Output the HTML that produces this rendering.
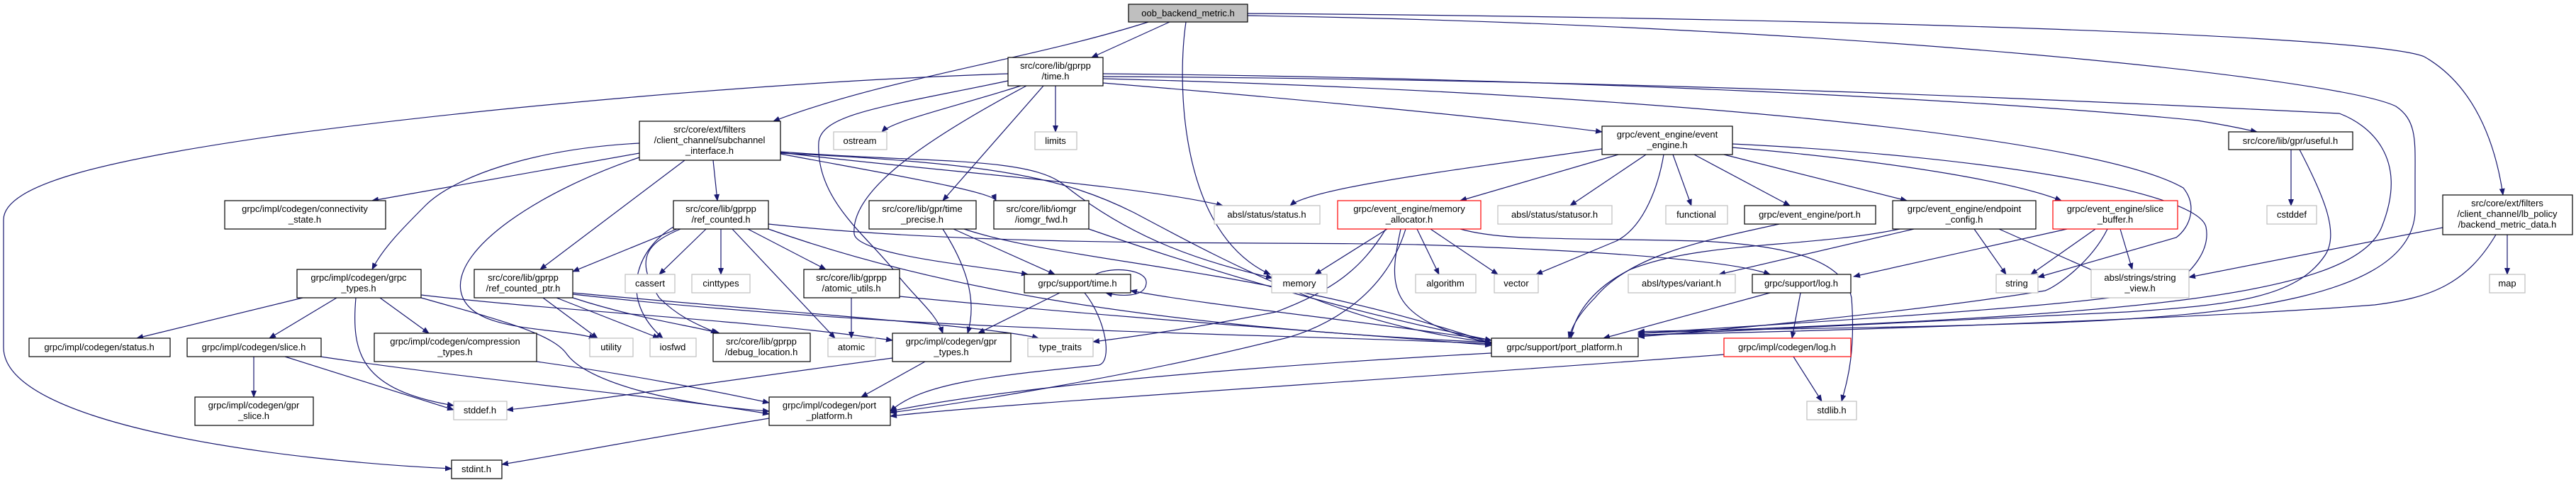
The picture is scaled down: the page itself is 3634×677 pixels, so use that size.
<!DOCTYPE html>
<html><head><meta charset="utf-8"><style>
html,body{margin:0;padding:0;background:#fff;}
svg{display:block;}
text{font-family:"Liberation Sans",sans-serif;font-size:13px;fill:#000;text-anchor:middle;}
.e{fill:none;stroke:#191970;stroke-width:1.2;marker-end:url(#a);}
.n{fill:#fff;stroke:#000;stroke-width:1.2;}
.g{fill:#fff;stroke:#bfbfbf;stroke-width:1.2;}
.r{fill:#fff;stroke:#ff0000;stroke-width:1.2;}
.root{fill:#bfbfbf;stroke:#000;stroke-width:1.2;}
</style></head><body>
<svg width="3634" height="677" viewBox="0 0 3634 677" xmlns="http://www.w3.org/2000/svg">
<defs><marker id="a" markerWidth="10" markerHeight="8" refX="9" refY="4" orient="auto" markerUnits="userSpaceOnUse"><path d="M0,0 L10,4 L0,8 z" fill="#191970"/></marker></defs>
<g>
<!-- oob edges -->
<path class="e" d="M1620,31 C1450,85 1250,110 1091,171"/>
<path class="e" d="M1650,31 L1540,81"/>
<path class="e" d="M1673,31 C1660,120 1665,330 1792,387"/>
<path class="e" d="M1760,19 C2600,25 3350,50 3420,80 C3490,120 3520,200 3531,275"/>
<path class="e" d="M1760,22 C2600,35 3300,110 3380,150 C3410,170 3407,200 3407,250 L3407,300 C3400,420 3150,445 2900,455 C2600,465 2350,465 2311,468"/>
<!-- time edges -->
<path class="e" d="M1422,104 C1100,115 700,150 400,190 C150,225 5,260 5,310 L5,490 C5,600 400,650 637,661"/>
<path class="e" d="M1440,121 C1350,150 1260,170 1244,186"/>
<path class="e" d="M1489,121 L1489,186"/>
<path class="e" d="M1472,121 L1330,283"/>
<path class="e" d="M1448,121 C1300,200 1200,270 1205,330 C1210,360 1380,375 1450,387"/>
<path class="e" d="M1422,114 C1250,150 1160,160 1155,200 C1150,280 1220,330 1260,380 C1290,420 1320,440 1330,470"/>
<path class="e" d="M1556,117 C1800,137 2100,165 2260,186"/>
<path class="e" d="M1556,104 C2200,110 2800,140 3100,170 C3150,178 3170,183 3184,186"/>
<path class="e" d="M1556,108 C2300,112 2900,140 3300,160 C3340,175 3400,220 3360,320 C3320,420 3000,445 2311,470"/>
<path class="e" d="M1556,111 C2300,130 2950,190 3080,265 C3100,290 3090,320 3070,335 L2875,391"/>
<!-- subchannel edges -->
<path class="e" d="M902,216 L525,283"/>
<path class="e" d="M902,202 C750,210 640,250 600,290 C570,320 540,350 525,380"/>
<path class="e" d="M966,226 L762,380"/>
<path class="e" d="M1006,226 L1012,283"/>
<path class="e" d="M902,222 C760,270 640,350 650,410 C660,470 780,460 840,477"/>
<path class="e" d="M1101,217 C1250,245 1400,270 1405,283"/>
<path class="e" d="M1101,215 C1300,240 1600,260 1725,290"/>
<path class="e" d="M1101,214 C1300,230 1450,220 1500,260 C1600,340 1700,370 1795,392"/>
<path class="e" d="M1101,216 C1400,230 1500,250 1600,300 C1750,380 1900,460 2104,483"/>
<!-- ref_counted -->
<path class="e" d="M996,323 L930,387"/>
<path class="e" d="M1017,323 L1017,387"/>
<path class="e" d="M1033,323 L1178,477"/>
<path class="e" d="M1055,323 L1165,380"/>
<path class="e" d="M960,323 C920,340 890,360 930,420 C960,450 990,460 1012,470"/>
<path class="e" d="M955,323 L808,383"/>
<path class="e" d="M1084,316 C1400,350 1800,340 2000,345 C2300,355 2450,370 2497,387"/>
<path class="e" d="M1084,323 C1300,400 1600,460 2104,483"/>
<path class="e" d="M950,320 C900,350 870,420 935,477"/>
<!-- ref_counted_ptr -->
<path class="e" d="M766,420 L843,477"/>
<path class="e" d="M785,420 L930,477"/>
<path class="e" d="M808,420 C900,450 980,460 1015,470"/>
<path class="e" d="M808,413 C1100,440 1400,460 1465,477"/>
<path class="e" d="M808,415 C1300,470 1800,470 2104,485"/>
<!-- grpc_types -->
<path class="e" d="M427,420 L193,477"/>
<path class="e" d="M475,420 L380,477"/>
<path class="e" d="M536,420 L605,470"/>
<path class="e" d="M502,420 C495,500 510,550 640,572"/>
<path class="e" d="M594,416 C800,440 1050,450 1259,480"/>
<path class="e" d="M594,420 C700,450 780,470 800,500 C830,540 950,570 1085,580"/>
<!-- slice -->
<path class="e" d="M358,503 L358,560"/>
<path class="e" d="M402,503 L640,578"/>
<path class="e" d="M452,503 C700,540 950,560 1085,584"/>
<path class="e" d="M757,510 C900,530 1000,550 1085,568"/>
<path class="e" d="M1259,505 C1000,540 800,570 715,578"/>
<path class="e" d="M1305,510 L1215,560"/>
<path class="e" d="M1085,590 C900,620 800,640 708,655"/>
<!-- time_precise / iomgr / atomic_utils / support_time -->
<path class="e" d="M1345,323 L1488,387"/>
<path class="e" d="M1330,323 C1360,370 1380,420 1365,470"/>
<path class="e" d="M1360,323 C1500,370 1800,380 2104,484"/>
<path class="e" d="M1536,323 C1700,380 1900,440 2104,480"/>
<path class="e" d="M1201,420 L1201,477"/>
<path class="e" d="M1269,418 C1600,450 1900,470 2104,487"/>
<path class="e" d="M1545,387 C1570,375 1620,380 1617,400 C1615,420 1580,418 1560,413"/>
<path class="e" d="M1495,413 L1380,470"/>
<path class="e" d="M1530,413 C1560,450 1570,510 1550,515 C1400,530 1300,540 1256,580"/>
<path class="e" d="M2104,480 C1900,450 1700,430 1595,410"/>
<!-- memory allocator -->
<path class="e" d="M1957,323 L1855,387"/>
<path class="e" d="M1999,323 L2030,387"/>
<path class="e" d="M2018,323 L2113,387"/>
<path class="e" d="M2060,323 C2120,340 2200,335 2400,340 C2500,345 2600,360 2612,420 C2618,500 2605,540 2598,566"/>
<path class="e" d="M1976,323 C1960,400 1950,450 2104,484"/>
<path class="e" d="M1983,323 C1950,430 1850,470 1800,480 C1600,530 1350,570 1256,582"/>
<path class="e" d="M1955,323 C1920,380 1880,410 1800,440 C1700,460 1600,475 1542,482"/>
<!-- event engine -->
<path class="e" d="M2260,210 C2050,240 1850,265 1820,290"/>
<path class="e" d="M2283,218 L2060,283"/>
<path class="e" d="M2322,218 L2215,290"/>
<path class="e" d="M2347,218 C2340,260 2320,320 2280,340 L2167,387"/>
<path class="e" d="M2360,218 L2386,290"/>
<path class="e" d="M2390,218 L2525,290"/>
<path class="e" d="M2432,218 L2690,283"/>
<path class="e" d="M2444,208 C2700,230 2850,260 2908,283"/>
<path class="e" d="M2444,203 C2800,220 3100,270 3112,320 C3120,360 3080,390 3070,400 C3050,420 2800,440 2311,470"/>
<path class="e" d="M2510,316 C2400,340 2300,360 2250,420 C2220,450 2215,470 2213,477"/>
<path class="e" d="M2785,323 L2830,387"/>
<path class="e" d="M2820,323 L2965,387"/>
<path class="e" d="M2700,323 L2425,387"/>
<path class="e" d="M2680,323 C2550,350 2400,340 2300,380 C2240,410 2220,450 2216,477"/>
<path class="e" d="M2956,323 L2865,387"/>
<path class="e" d="M2991,323 L3008,380"/>
<path class="e" d="M2916,323 L2615,390"/>
<path class="e" d="M2973,323 C2950,370 2900,405 2885,410 C2700,440 2400,468 2311,475"/>
<path class="e" d="M3232,211 L3232,290"/>
<path class="e" d="M3244,211 C3280,280 3300,330 3280,360 C3240,420 3150,430 3000,440 C2700,455 2400,468 2311,473"/>
<path class="e" d="M3446,321 L3088,391"/>
<path class="e" d="M3537,331 L3537,387"/>
<path class="e" d="M3521,331 C3480,400 3430,420 3350,430 C3100,450 2500,470 2311,472"/>
<path class="e" d="M2540,413 L2528,477"/>
<path class="e" d="M2497,413 L2262,477"/>
<path class="e" d="M2530,503 L2570,566"/>
<path class="e" d="M2432,500 C1900,540 1400,570 1256,587"/>
<path class="e" d="M2104,498 C1700,520 1400,550 1256,580"/>
</g>
<g>
<rect class="root" x="1592" y="6" width="168" height="25"/><text x="1676" y="23">oob_backend_metric.h</text>
<rect class="n" x="1422" y="81" width="134" height="40"/><text x="1489" y="97">src/core/lib/gprpp</text><text x="1489" y="112">/time.h</text>
<rect class="n" x="902" y="171" width="199" height="55"/><text x="1001" y="187">src/core/ext/filters</text><text x="1001" y="202">/client_channel/subchannel</text><text x="1001" y="217">_interface.h</text>
<rect class="g" x="1176" y="186" width="75" height="25"/><text x="1213" y="203">ostream</text>
<rect class="g" x="1460" y="186" width="59" height="25"/><text x="1489" y="203">limits</text>
<rect class="n" x="3144" y="186" width="175" height="25"/><text x="3231" y="203">src/core/lib/gpr/useful.h</text>
<rect class="n" x="2260" y="178" width="184" height="40"/><text x="2352" y="194">grpc/event_engine/event</text><text x="2352" y="209">_engine.h</text>
<rect class="n" x="3446" y="275" width="183" height="56"/><text x="3537" y="291">src/core/ext/filters</text><text x="3537" y="306">/client_channel/lb_policy</text><text x="3537" y="321">/backend_metric_data.h</text>
<rect class="n" x="317" y="283" width="227" height="40"/><text x="430" y="299">grpc/impl/codegen/connectivity</text><text x="430" y="314">_state.h</text>
<rect class="n" x="950" y="283" width="134" height="40"/><text x="1017" y="299">src/core/lib/gprpp</text><text x="1017" y="314">/ref_counted.h</text>
<rect class="n" x="1226" y="283" width="151" height="40"/><text x="1301" y="299">src/core/lib/gpr/time</text><text x="1301" y="314">_precise.h</text>
<rect class="n" x="1402" y="283" width="134" height="40"/><text x="1469" y="299">src/core/lib/iomgr</text><text x="1469" y="314">/iomgr_fwd.h</text>
<rect class="g" x="1713" y="290" width="149" height="26"/><text x="1787" y="307">absl/status/status.h</text>
<rect class="r" x="1887" y="283" width="202" height="40"/><text x="1988" y="299">grpc/event_engine/memory</text><text x="1988" y="314">_allocator.h</text>
<rect class="g" x="2113" y="290" width="161" height="26"/><text x="2193" y="307">absl/status/statusor.h</text>
<rect class="g" x="2350" y="290" width="87" height="26"/><text x="2393" y="307">functional</text>
<rect class="n" x="2461" y="290" width="185" height="26"/><text x="2553" y="307">grpc/event_engine/port.h</text>
<rect class="n" x="2670" y="283" width="202" height="40"/><text x="2771" y="299">grpc/event_engine/endpoint</text><text x="2771" y="314">_config.h</text>
<rect class="r" x="2896" y="283" width="176" height="40"/><text x="2984" y="299">grpc/event_engine/slice</text><text x="2984" y="314">_buffer.h</text>
<rect class="g" x="3198" y="290" width="70" height="26"/><text x="3233" y="307">cstddef</text>
<rect class="n" x="419" y="380" width="175" height="40"/><text x="506" y="396">grpc/impl/codegen/grpc</text><text x="506" y="411">_types.h</text>
<rect class="n" x="669" y="380" width="139" height="40"/><text x="738" y="396">src/core/lib/gprpp</text><text x="738" y="411">/ref_counted_ptr.h</text>
<rect class="g" x="882" y="387" width="70" height="26"/><text x="917" y="404">cassert</text>
<rect class="g" x="976" y="387" width="82" height="26"/><text x="1017" y="404">cinttypes</text>
<rect class="n" x="1134" y="380" width="135" height="40"/><text x="1201" y="396">src/core/lib/gprpp</text><text x="1201" y="411">/atomic_utils.h</text>
<rect class="n" x="1445" y="387" width="150" height="26"/><text x="1520" y="404">grpc/support/time.h</text>
<rect class="g" x="1794" y="387" width="78" height="26"/><text x="1833" y="404">memory</text>
<rect class="g" x="1997" y="387" width="85" height="26"/><text x="2039" y="404">algorithm</text>
<rect class="g" x="2108" y="387" width="62" height="26"/><text x="2139" y="404">vector</text>
<rect class="g" x="2297" y="387" width="151" height="26"/><text x="2372" y="404">absl/types/variant.h</text>
<rect class="n" x="2472" y="387" width="139" height="26"/><text x="2541" y="404">grpc/support/log.h</text>
<rect class="g" x="2816" y="387" width="59" height="26"/><text x="2845" y="404">string</text>
<rect class="g" x="2950" y="380" width="138" height="40"/><text x="3019" y="396">absl/strings/string</text><text x="3019" y="411">_view.h</text>
<rect class="g" x="3512" y="387" width="50" height="26"/><text x="3537" y="404">map</text>
<rect class="n" x="41" y="477" width="199" height="26"/><text x="140" y="494">grpc/impl/codegen/status.h</text>
<rect class="n" x="264" y="477" width="189" height="26"/><text x="358" y="494">grpc/impl/codegen/slice.h</text>
<rect class="n" x="528" y="470" width="229" height="40"/><text x="642" y="486">grpc/impl/codegen/compression</text><text x="642" y="501">_types.h</text>
<rect class="g" x="832" y="477" width="61" height="26"/><text x="862" y="494">utility</text>
<rect class="g" x="917" y="477" width="65" height="26"/><text x="949" y="494">iosfwd</text>
<rect class="n" x="1006" y="470" width="137" height="40"/><text x="1074" y="486">src/core/lib/gprpp</text><text x="1074" y="501">/debug_location.h</text>
<rect class="g" x="1168" y="477" width="67" height="26"/><text x="1201" y="494">atomic</text>
<rect class="n" x="1259" y="470" width="167" height="40"/><text x="1342" y="486">grpc/impl/codegen/gpr</text><text x="1342" y="501">_types.h</text>
<rect class="g" x="1450" y="477" width="92" height="26"/><text x="1496" y="494">type_traits</text>
<rect class="n" x="2104" y="477" width="207" height="26"/><text x="2207" y="494">grpc/support/port_platform.h</text>
<rect class="r" x="2432" y="477" width="179" height="26"/><text x="2521" y="494">grpc/impl/codegen/log.h</text>
<rect class="n" x="275" y="560" width="167" height="40"/><text x="358" y="576">grpc/impl/codegen/gpr</text><text x="358" y="591">_slice.h</text>
<rect class="g" x="640" y="566" width="75" height="26"/><text x="677" y="583">stddef.h</text>
<rect class="n" x="1085" y="560" width="171" height="40"/><text x="1170" y="576">grpc/impl/codegen/port</text><text x="1170" y="591">_platform.h</text>
<rect class="g" x="2549" y="566" width="70" height="26"/><text x="2584" y="583">stdlib.h</text>
<rect class="n" x="637" y="649" width="71" height="26"/><text x="672" y="666">stdint.h</text>
</g>
</svg>
</body></html>
